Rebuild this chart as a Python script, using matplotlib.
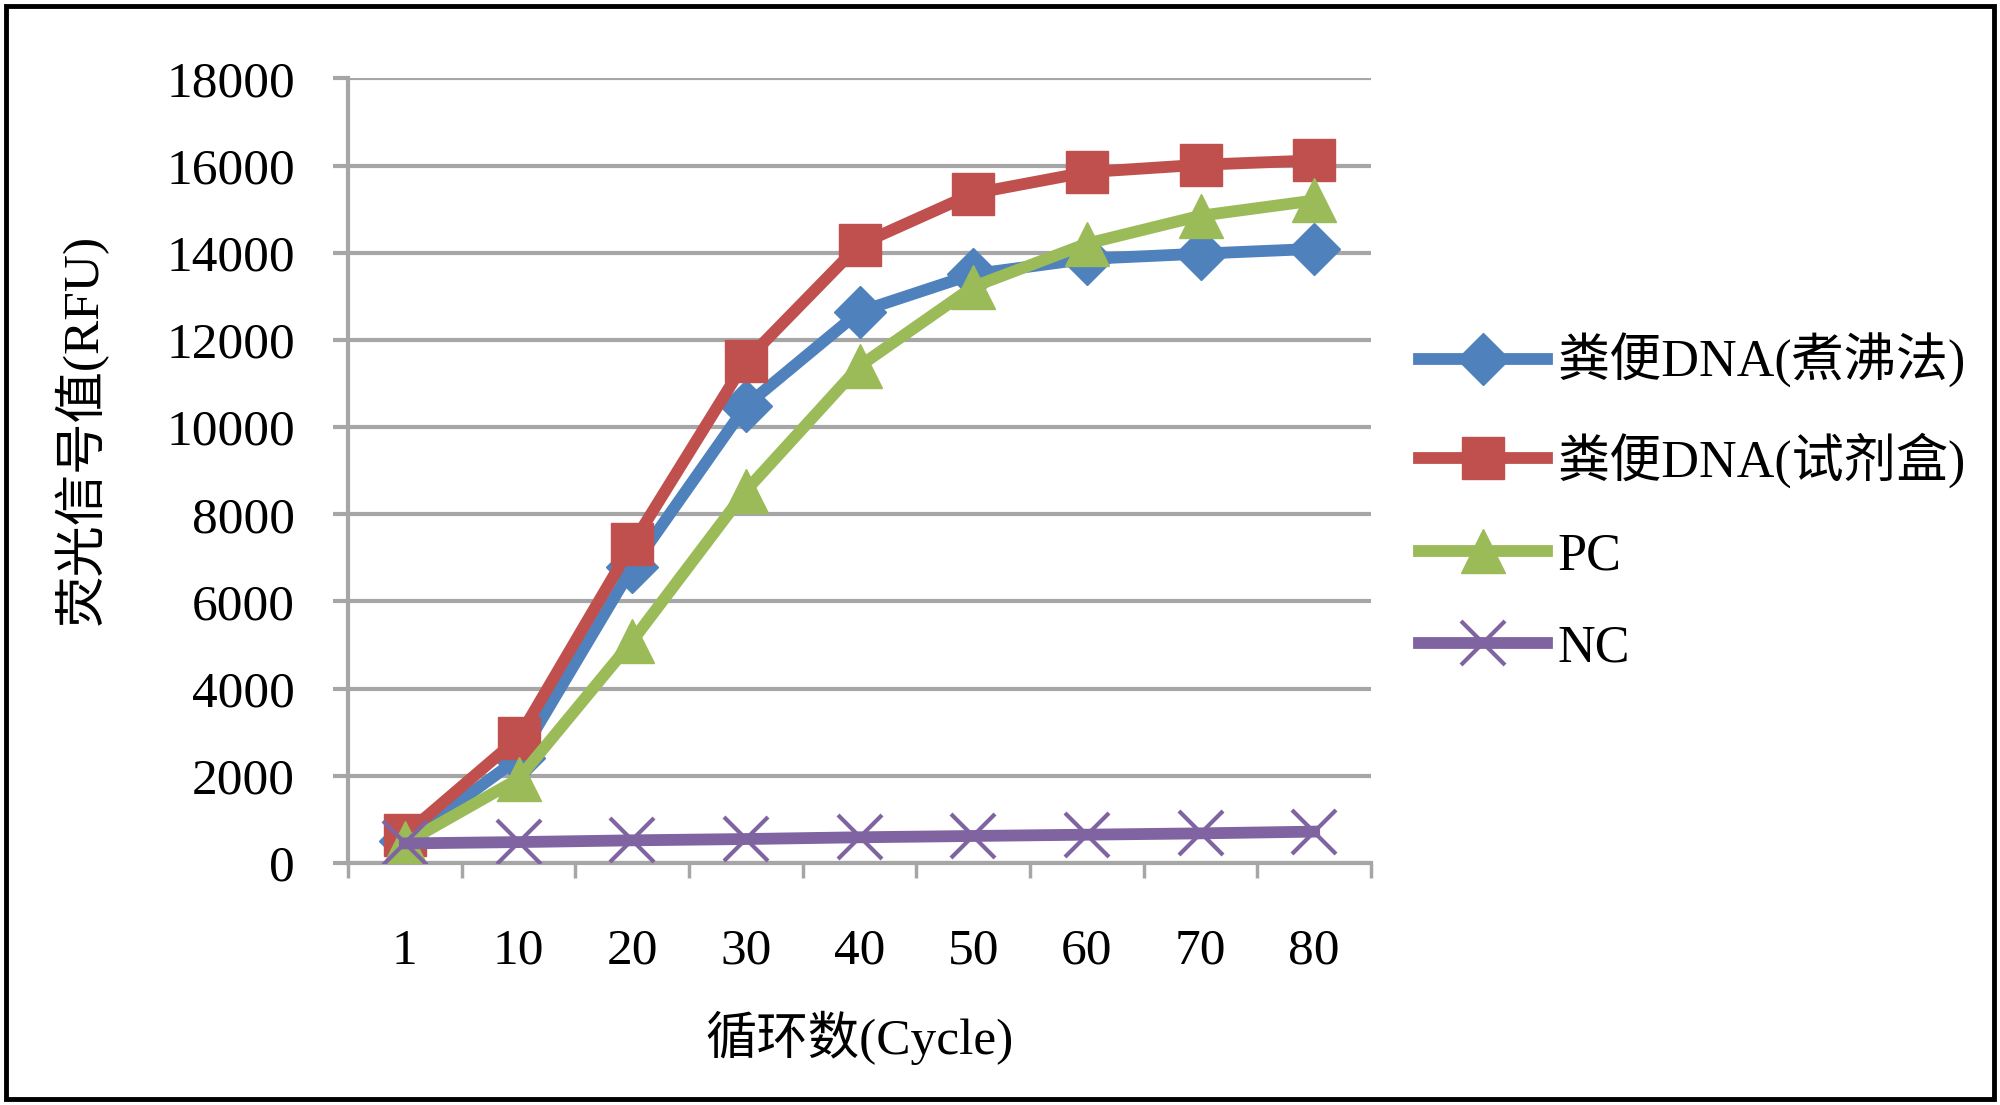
from matplotlib import pyplot as plt
from matplotlib.patches import Rectangle
import numpy as np

plt.rcParams['font.family'] = ['Liberation Serif', 'Noto Sans CJK SC']

cycles = ["1", "10", "20", "30", "40", "50", "60", "70", "80"]
boiling = [500, 2400, 6780, 10490, 12650, 13510, 13860, 13980, 14090]
kit = [640, 2870, 7310, 11520, 14190, 15360, 15850, 16020, 16120]
pc = [450, 1930, 5090, 8540, 11400, 13220, 14210, 14850, 15200]
nc = [450, 480, 520, 550, 590, 620, 650, 680, 720]
labels = ["粪便DNA(煮沸法)", "粪便DNA(试剂盒)", "PC", "NC"]
yticks = [0, 2000, 4000, 6000, 8000, 10000, 12000, 14000, 16000, 18000]

grey = "#a6a6a6"
fs = 37

fig = plt.figure(figsize=(20, 11.05), dpi=100)
ax = fig.add_axes([0.174, 0.219, 0.5115, 0.71])

X = np.arange(len(cycles))
ax.plot(X, boiling, color="#4f81bd", lw=8.5, marker="D", ms=26, label=labels[0], zorder=3)
ax.plot(X, kit, color="#c0504d", lw=8.5, marker="s", ms=30, label=labels[1], zorder=4)
ax.plot(X, pc, color="#9bbb59", lw=8.5, marker="^", ms=32, label=labels[2], zorder=5)
ax.plot(X, nc, color="#8064a2", lw=8.5, marker="x", ms=32, mew=3, label=labels[3], zorder=6)

ax.set_xlim(-0.5, len(cycles) - 0.5)
ax.set_ylim(0, 18000)
ax.set_yticks(yticks)
ax.set_yticklabels([str(v) for v in yticks], fontsize=fs)
ax.set_xticks(X)
ax.set_xticklabels(cycles, fontsize=fs)
ax.set_xticks(np.arange(-0.5, len(cycles)), minor=True)
ax.tick_params(axis="x", which="major", length=0, pad=47)
ax.tick_params(axis="x", which="minor", length=11, width=2.5, color=grey, direction="out")
ax.tick_params(axis="y", which="major", length=11, width=3, color=grey, pad=27)

ax.yaxis.grid(True, color=grey, lw=3)
ax.set_axisbelow(True)
for s in ["top", "right"]:
    ax.spines[s].set_visible(False)
for s in ["left", "bottom"]:
    ax.spines[s].set_color(grey)
    ax.spines[s].set_linewidth(3)

ax.set_xlabel("循环数(Cycle)", fontsize=fs, labelpad=26)
ax.set_ylabel("荧光信号值(RFU)", fontsize=fs, labelpad=42, y=0.553)

fig.legend(loc="center left", bbox_to_anchor=(0.7095, 0.545), fontsize=37.5,
           frameon=False, handlelength=2.45, handletextpad=0.2, labelspacing=0.85,
           borderpad=0, borderaxespad=0)

fig.patches.append(Rectangle((0.003, 0.005), 0.994, 0.99, transform=fig.transFigure,
                             fill=False, ec="black", lw=3.5))

plt.savefig("out.png", dpi=100)
